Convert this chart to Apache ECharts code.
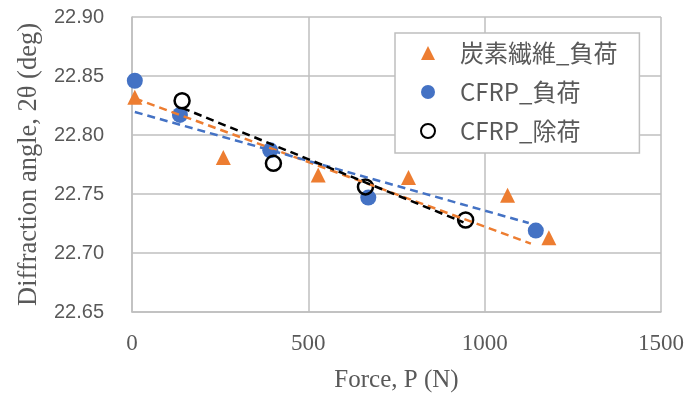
<!DOCTYPE html>
<html>
<head>
<meta charset="utf-8">
<script src="https://cdn.jsdelivr.net/npm/echarts@6/dist/echarts.min.js"></script>
<style>html,body{margin:0;padding:0;background:#fff}#c{width:691px;height:401px}</style>
</head>
<body>
<div id="c"></div>
<script>
// ---- data ----
const seriesNames = ['炭素繊維_負荷', 'CFRP_負荷', 'CFRP_除荷'];
const xTicks = [0, 500, 1000, 1500];
const yTicks = [22.65, 22.70, 22.75, 22.80, 22.85, 22.90];

const cfLoadX = [8, 259, 528, 784, 1065, 1182];
const cfLoadY = [22.832, 22.781, 22.766, 22.764, 22.749, 22.713];

const cfrpLoadX = [8, 136, 392, 670, 1145];
const cfrpLoadY = [22.846, 22.817, 22.787, 22.747, 22.719];

const cfrpUnloadX = [142, 401, 662, 946];
const cfrpUnloadY = [22.829, 22.776, 22.756, 22.728];

// dashed trend lines (endpoints)
const trendOrangeX = [8, 1131];
const trendOrangeY = [22.831, 22.708];
const trendBlueX = [8, 1125];
const trendBlueY = [22.8195, 22.7254];
const trendBlackX = [142, 940];
const trendBlackY = [22.823, 22.726];

const pairs = (xs, ys) => xs.map((x, i) => [x, ys[i]]);

const ORANGE = '#ED7D31', BLUE = '#4472C4', GRID = '#bfbfbf', TXT = '#595959';

const chart = echarts.init(document.getElementById('c'));
chart.setOption({
  animation: false,
  backgroundColor: '#fff',
  grid: { left: 132, right: 30, top: 17, bottom: 89, containLabel: false },
  xAxis: {
    type: 'value', min: xTicks[0], max: xTicks[xTicks.length - 1], interval: 500,
    axisLine: { show: true, lineStyle: { color: GRID, width: 1.5 } },
    axisTick: { show: false },
    splitLine: { show: true, lineStyle: { color: GRID, width: 1.5 } },
    axisLabel: { color: TXT, fontFamily: 'Liberation Serif', fontSize: 23, margin: 20,
      formatter: v => String(v) },
    name: 'Force, P (N)', nameLocation: 'middle', nameGap: 56,
    nameTextStyle: { color: TXT, fontFamily: 'Liberation Serif', fontSize: 25 }
  },
  yAxis: {
    type: 'value', min: yTicks[0], max: yTicks[yTicks.length - 1], interval: 0.05,
    axisLine: { show: true, lineStyle: { color: GRID, width: 1.5 } },
    axisTick: { show: false },
    splitLine: { show: true, lineStyle: { color: GRID, width: 1.5 } },
    axisLabel: { color: TXT, fontFamily: 'Liberation Sans', fontSize: 20, margin: 28,
      formatter: v => v.toFixed(2) },
    name: 'Diffraction angle, 2θ (deg)', nameLocation: 'middle', nameGap: 89,
    nameTextStyle: { color: TXT, fontFamily: 'Liberation Serif', fontSize: 26.5 }
  },
  legend: {
    data: seriesNames,
    orient: 'vertical', left: 395, top: 33,
    backgroundColor: '#fff', borderColor: GRID, borderWidth: 1.5, borderRadius: 0,
    padding: [7, 22, 9, 25],
    itemWidth: 14, itemHeight: 14, itemGap: 13,
    textStyle: { color: TXT, fontFamily: 'Noto Sans CJK JP', fontSize: 24, lineHeight: 26, padding: [0, 0, 0, 20] }
  },
  series: [
    { name: seriesNames[0], type: 'scatter', symbol: 'triangle', symbolSize: 15, z: 2,
      itemStyle: { color: ORANGE, opacity: 1 }, data: pairs(cfLoadX, cfLoadY) },
    { name: seriesNames[1], type: 'scatter', symbol: 'circle', symbolSize: 16, z: 2,
      itemStyle: { color: BLUE, opacity: 1 }, data: pairs(cfrpLoadX, cfrpLoadY) },
    { name: seriesNames[2], type: 'scatter', symbol: 'circle', symbolSize: 15, z: 3,
      itemStyle: { color: 'rgba(255,255,255,0)', borderColor: '#000', borderWidth: 2.5, opacity: 1 },
      data: pairs(cfrpUnloadX, cfrpUnloadY) },
    { type: 'line', symbol: 'none', silent: true, z: 4,
      lineStyle: { color: ORANGE, width: 2.5, type: [8, 5] }, data: pairs(trendOrangeX, trendOrangeY) },
    { type: 'line', symbol: 'none', silent: true, z: 4,
      lineStyle: { color: BLUE, width: 2.5, type: [8, 5] }, data: pairs(trendBlueX, trendBlueY) },
    { type: 'line', symbol: 'none', silent: true, z: 5,
      lineStyle: { color: '#000', width: 2.5, type: [8, 5] }, data: pairs(trendBlackX, trendBlackY) }
  ]
});
</script>
</body>
</html>
